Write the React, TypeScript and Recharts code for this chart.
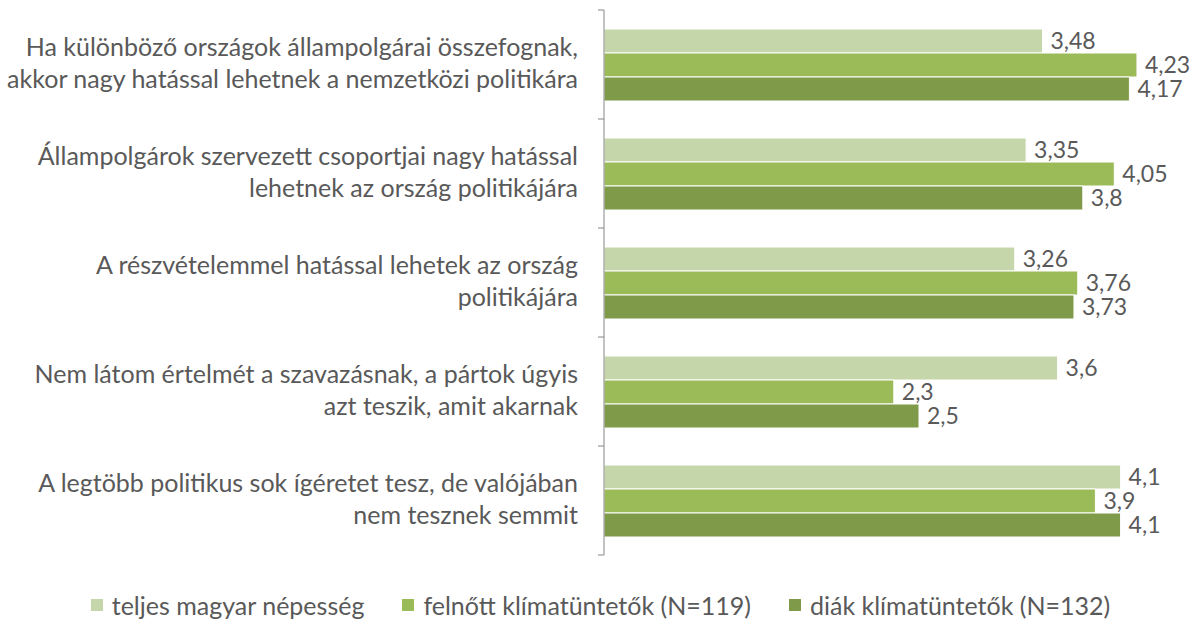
import { BarChart, Bar, XAxis, YAxis, LabelList } from 'recharts'

const categories = [
  'Ha különböző országok állampolgárai összefognak,|akkor nagy hatással lehetnek a nemzetközi politikára',
  'Állampolgárok szervezett csoportjai nagy hatással|lehetnek az ország politikájára',
  'A részvételemmel hatással lehetek az ország|politikájára',
  'Nem látom értelmét a szavazásnak, a pártok úgyis|azt teszik, amit akarnak',
  'A legtöbb politikus sok ígéretet tesz, de valójában|nem tesznek semmit',
]
const teljes = [3.48, 3.35, 3.26, 3.6, 4.1]
const felnott = [4.23, 4.05, 3.76, 2.3, 3.9]
const diak = [4.17, 3.8, 3.73, 2.5, 4.1]

const seriesNames = ['teljes magyar népesség', 'felnőtt klímatüntetők (N=119)', 'diák klímatüntetők (N=132)']
const colors = ['#C5D6AA', '#9BBB59', '#7F9A48']

const data = categories.map((c, i) => ({
  name: c,
  teljes: teljes[i],
  felnott: felnott[i],
  diak: diak[i],
}))

const FONT = 'Lato, "Open Sans", sans-serif'
const TEXT = '#595959'
const TOP = 10
const PLOT_H = 545
const BAND = PLOT_H / categories.length

function CategoryTick(props: any) {
  const { x, y, payload, index } = props
  const lines = String(payload.value).split('|')
  return (
    <g>
      <line x1={x + 20} x2={x + 26} y1={y - BAND / 2} y2={y - BAND / 2} stroke="#868686" />
      {index === categories.length - 1 && (
        <line x1={x + 20} x2={x + 26} y1={y + BAND / 2} y2={y + BAND / 2} stroke="#868686" />
      )}
      <text x={x} y={y} textAnchor="end" fill={TEXT} fontSize={25} fontFamily={FONT}>
        {lines.map((l, i) => (
          <tspan key={i} x={x} dy={i === 0 ? -9 : 32}>
            {l}
          </tspan>
        ))}
      </text>
    </g>
  )
}

function LegendBox() {
  return (
    <div
      style={{
        position: 'absolute',
        left: 0,
        top: 590,
        width: 1201,
        display: 'flex',
        justifyContent: 'center',
        gap: 38,
        fontFamily: FONT,
        fontSize: 25,
        color: TEXT,
        lineHeight: '30px',
      }}
    >
      {seriesNames.map((n, i) => (
        <div key={n} style={{ display: 'flex', alignItems: 'center' }}>
          <span style={{ width: 12, height: 12, background: colors[i], marginRight: 9, display: 'inline-block' }} />
          {n}
        </div>
      ))}
    </div>
  )
}

const fmt = (v: any) => String(v).replace('.', ',')

export default function App() {
  const keys = ['teljes', 'felnott', 'diak']
  return (
    <div style={{ position: 'absolute', left: 0, top: 0, width: 1201, height: 623, background: '#fff' }}>
      <BarChart
        width={1201}
        height={623}
        data={data}
        layout="vertical"
        margin={{ top: TOP, right: 30, left: 0, bottom: 623 - TOP - PLOT_H }}
        barCategoryGap={19}
        barGap={0}
      >
        <XAxis type="number" domain={[0, 4.5]} hide />
        <YAxis
          type="category"
          dataKey="name"
          width={604}
          tick={<CategoryTick />}
          tickLine={false}
          axisLine={{ stroke: '#868686' }}
          tickMargin={20}
          interval={0}
        />
        {keys.map((k, i) => (
          <Bar key={k} dataKey={k} name={seriesNames[i]} fill={colors[i]} stroke="#fff" strokeWidth={1} isAnimationActive={false}>
            <LabelList
              dataKey={k}
              position="right"
              offset={8}
              formatter={fmt}
              fill={TEXT}
              fontSize={23}
              fontFamily={FONT}
            />
          </Bar>
        ))}
      </BarChart>
      <LegendBox />
    </div>
  )
}
